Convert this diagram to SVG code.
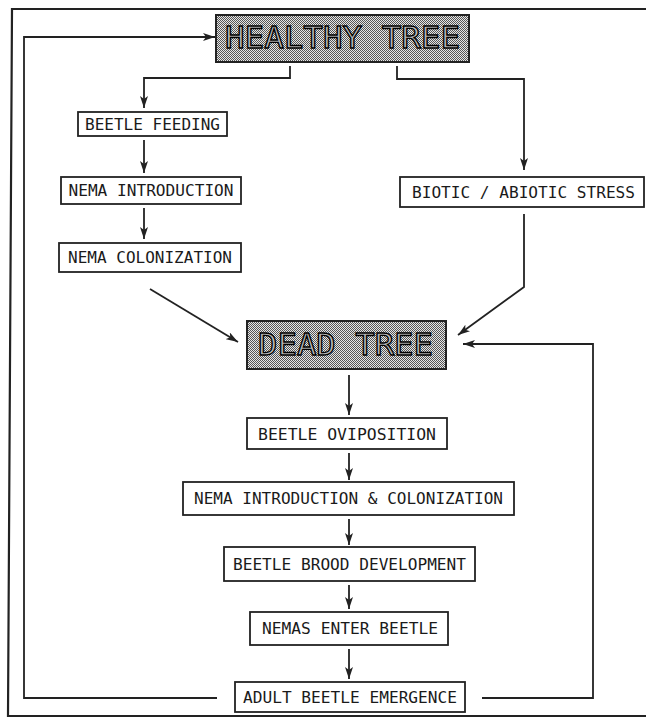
<svg xmlns="http://www.w3.org/2000/svg" width="646" height="717" viewBox="0 0 646 717">
<style>
.box{fill:#fff;stroke:#222;stroke-width:1.8}
.dark{fill:url(#dots);stroke:#222;stroke-width:2}
.lbl{font-family:"DejaVu Sans Mono","Liberation Mono",monospace;font-size:16px;fill:#1a1a1a;text-anchor:middle}
.big{font-family:"DejaVu Sans Mono","Liberation Mono",monospace;font-size:31px;fill:#b8b8b8;stroke:#000;stroke-width:1.3;text-anchor:middle}
.con{fill:none;stroke:#222;stroke-width:1.8}
.arr{marker-end:url(#ah)}
</style>
<defs>
<pattern id="dots" width="2" height="2" patternUnits="userSpaceOnUse">
<rect width="2" height="2" fill="#e6e6e6"/>
<rect width="1" height="1" fill="#555"/>
<rect x="1" y="1" width="1" height="1" fill="#555"/>
</pattern>
<marker id="ah" markerUnits="userSpaceOnUse" markerWidth="12" markerHeight="8" refX="12" refY="4" orient="auto">
<path d="M0,0 L12,4 L0,8 L3,4 z" fill="#222"/>
</marker>
</defs>
<rect width="646" height="717" fill="#fff"/>
<path d="M646,9 H12 L8,716 H646" fill="none" stroke="#222" stroke-width="2.2"/>
<g id="connectors">
<path class="con arr" d="M290,66 V78 H144 V108"/>
<path class="con arr" d="M397,66 V79 H524 V170"/>
<path class="con arr" d="M144,140 V173"/>
<path class="con arr" d="M144,208 V239"/>
<path class="con arr" d="M150,289 L238,342"/>
<path class="con arr" d="M524,214 V287 L458,335"/>
<path class="con arr" d="M349,375 V415"/>
<path class="con arr" d="M349,453 V480"/>
<path class="con arr" d="M349,519 V545"/>
<path class="con arr" d="M349,585 V609"/>
<path class="con arr" d="M349,649 V679"/>
<path class="con arr" d="M217,698 H24 V37 H215"/>
<path class="con arr" d="M482,698 H593 V344 H463"/>
</g>
<g id="healthy-tree">
<rect class="dark" x="216" y="15" width="253" height="47"/>
<text class="big" x="342.5" y="48" textLength="235" lengthAdjust="spacingAndGlyphs">HEALTHY TREE</text>
</g>
<g id="beetle-feeding">
<rect class="box" x="78" y="112" width="149" height="24"/>
<text class="lbl" x="152.5" y="129.5" textLength="135" lengthAdjust="spacingAndGlyphs">BEETLE FEEDING</text>
</g>
<g id="nema-introduction">
<rect class="box" x="61" y="177" width="180" height="27"/>
<text class="lbl" x="151" y="196" textLength="165" lengthAdjust="spacingAndGlyphs">NEMA INTRODUCTION</text>
</g>
<g id="nema-colonization">
<rect class="box" x="59" y="243" width="182" height="29"/>
<text class="lbl" x="150" y="263" textLength="164" lengthAdjust="spacingAndGlyphs">NEMA COLONIZATION</text>
</g>
<g id="biotic-abiotic-stress">
<rect class="box" x="400" y="177" width="244" height="30"/>
<text class="lbl" x="523.5" y="198" textLength="223" lengthAdjust="spacingAndGlyphs">BIOTIC / ABIOTIC STRESS</text>
</g>
<g id="dead-tree">
<rect class="dark" x="247" y="321" width="199" height="48"/>
<text class="big" x="345.5" y="355" textLength="175" lengthAdjust="spacingAndGlyphs">DEAD TREE</text>
</g>
<g id="beetle-oviposition">
<rect class="box" x="247" y="418" width="200" height="31"/>
<text class="lbl" x="347" y="439.5" textLength="178" lengthAdjust="spacingAndGlyphs">BEETLE OVIPOSITION</text>
</g>
<g id="nema-intro-colonization">
<rect class="box" x="183" y="482" width="331" height="33"/>
<text class="lbl" x="348.5" y="504" textLength="309" lengthAdjust="spacingAndGlyphs">NEMA INTRODUCTION &amp; COLONIZATION</text>
</g>
<g id="beetle-brood-development">
<rect class="box" x="224" y="547" width="251" height="34"/>
<text class="lbl" x="349.5" y="570" textLength="233" lengthAdjust="spacingAndGlyphs">BEETLE BROOD DEVELOPMENT</text>
</g>
<g id="nemas-enter-beetle">
<rect class="box" x="250" y="612" width="198" height="33"/>
<text class="lbl" x="350" y="634" textLength="176" lengthAdjust="spacingAndGlyphs">NEMAS ENTER BEETLE</text>
</g>
<g id="adult-beetle-emergence">
<rect class="box" x="235" y="682" width="230" height="30"/>
<text class="lbl" x="350" y="703" textLength="214" lengthAdjust="spacingAndGlyphs">ADULT BEETLE EMERGENCE</text>
</g>
</svg>
